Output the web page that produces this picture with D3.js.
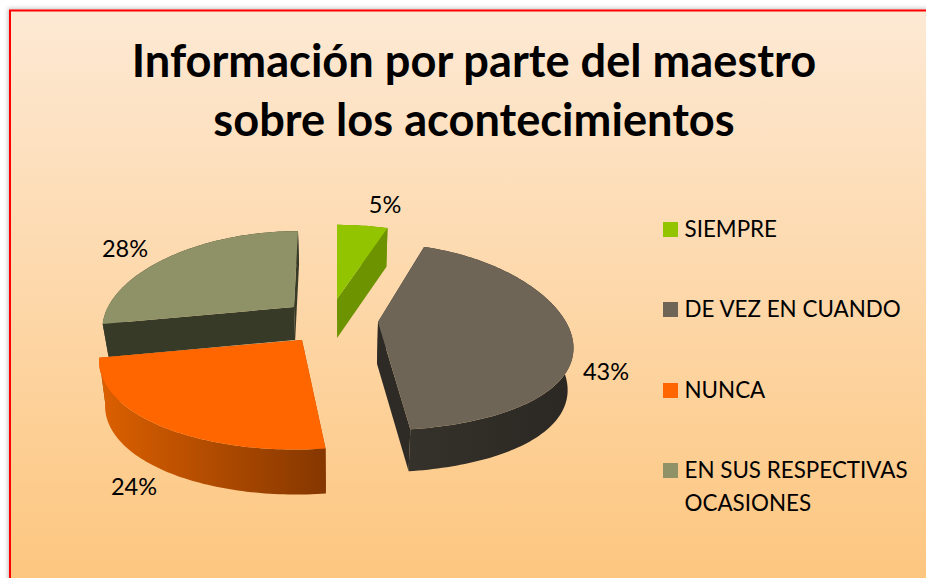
<!DOCTYPE html>
<html><head><meta charset="utf-8">
<script src="https://cdn.jsdelivr.net/npm/d3@7"></script>
<style>html,body{margin:0;padding:0;background:#fff;overflow:hidden}svg{display:block}text{font-family:Lato,sans-serif;fill:#000}</style>
</head><body><svg id="c" width="926" height="578"></svg>
<script>
const title = ["Información por parte del maestro", "sobre los acontecimientos"];
const categories = ["SIEMPRE", "DE VEZ EN CUANDO", "NUNCA", "EN SUS RESPECTIVAS OCASIONES"];
const values = [5, 43, 24, 28];
const topColors = ["#93c400", "#6f6557", "#ff6600", "#8e9266"];
const cutColors = ["#6e9300", "#2e2b26", "#a84500", "#383a28"];
const rimLeft = ["#6e9300", "#35322c", "#dc6000", "#383a28"];
const rimRight = ["#6e9300", "#2b2823", "#853700", "#383a28"];

// placement of each exploded slice: apex, radii, lean, perspective, extrusion depth
const geometry = [
  {cx:337, cy:299, A:206, B:86, lean:0, kx:0.274, depth:39},
  {cx:378, cy:322, A:188, B:91, lean:0, kx:0.274, depth:42},
  {cx:302, cy:340, A:198, B:92, lean:7, kx:0.187, depth:45},
  {cx:294, cy:307, A:186, B:88, lean:4, kx:0.22,  depth:33}
];
const labelPos = [[385,213],[606,380],[134,495],[125,257]];
const legendY = [222,302,383,463];
const ky = 0.16, vanishX = 340, shrink = 0.975;

const svg = d3.select("#c");
const defs = svg.append("defs");
const bg = defs.append("linearGradient").attr("id","bg").attr("x1",0).attr("y1",0).attr("x2",0).attr("y2",1);
bg.append("stop").attr("offset","0%").attr("stop-color","#fde9d4");
bg.append("stop").attr("offset","100%").attr("stop-color","#fdc57c");
const sh = defs.append("filter").attr("id","sh").attr("x","-5%").attr("y","-5%").attr("width","110%").attr("height","110%");
sh.append("feDropShadow").attr("dx",-1).attr("dy",-1).attr("stdDeviation",2).attr("flood-color","#000").attr("flood-opacity",0.25);

svg.append("rect").attr("x",10).attr("y",10.5).attr("width",930).attr("height",590)
  .attr("fill","url(#bg)").attr("stroke","#ff0000").attr("stroke-width",2).attr("filter","url(#sh)");

svg.selectAll("text.t").data(title).join("text").attr("class","t")
  .attr("x",474).attr("y",(d,i)=>77+i*59).attr("text-anchor","middle")
  .attr("font-size",45.2).attr("font-weight",700).text(d=>d);

const pie = d3.pie().sort(null).value(d=>d);
const arcs = pie(values);

function proj(g, a){
  const u = Math.sin(a), v = Math.cos(a);
  return [g.cx + g.A*u/(1+g.kx*v) + g.lean*v, g.cy - g.B*v/(1+ky*v)];
}
function apex(g){ return [g.cx, g.cy]; }
function drop(g, p){ return [vanishX + (p[0]-vanishX)*shrink, p[1]+g.depth]; }
const line = d3.line();
function rim(g, a0, a1){
  const n = Math.max(2, Math.ceil((a1-a0)/0.02));
  const t = d3.scaleLinear().domain([0,n]).range([a0,a1]);
  return d3.range(n+1).map(i=>proj(g,t(i)));
}

const order = [3,0,1,2];
order.forEach(i=>{
  const g = geometry[i], d = arcs[i];
  const pts = rim(g,d.startAngle,d.endAngle);
  const c = apex(g);
  const grp = svg.append("g");
  const xs = d3.extent(pts,p=>p[0]);
  const gid = "rim"+i;
  const lg = defs.append("linearGradient").attr("id",gid).attr("gradientUnits","userSpaceOnUse")
    .attr("x1",xs[0]).attr("x2",xs[1]).attr("y1",0).attr("y2",0);
  lg.append("stop").attr("offset","0%").attr("stop-color",rimLeft[i]);
  lg.append("stop").attr("offset","100%").attr("stop-color",rimRight[i]);
  [pts[0],pts[pts.length-1]].forEach(p=>{
    grp.append("path").attr("d",line([c,p,drop(g,p),drop(g,c)])+"Z").attr("fill",cutColors[i]);
  });
  grp.append("path").attr("d",line(pts.concat(pts.slice().reverse().map(p=>drop(g,p))))+"Z").attr("fill",`url(#${gid})`);
  grp.append("path").attr("d",line([c].concat(pts))+"Z").attr("fill",topColors[i]);
});

svg.selectAll("text.p").data(values).join("text").attr("class","p")
  .attr("x",(d,i)=>labelPos[i][0]).attr("y",(d,i)=>labelPos[i][1])
  .attr("text-anchor","middle").attr("font-size",23.5).text(d=>d+"%");

const leg = svg.selectAll("g.l").data(categories).join("g").attr("class","l");
leg.append("rect").attr("x",663).attr("y",(d,i)=>legendY[i]).attr("width",15).attr("height",15)
  .attr("fill",(d,i)=>topColors[i]);
leg.append("text").attr("x",684.5).attr("y",(d,i)=>legendY[i]+15).attr("font-size",22.4)
  .each(function(d){
    const el = d3.select(this);
    const parts = d.length>20 ? ["EN SUS RESPECTIVAS","OCASIONES"] : [d];
    parts.forEach((s,j)=>el.append("tspan").attr("x",684.5).attr("dy",j?33:0).text(s));
  });
</script></body></html>
